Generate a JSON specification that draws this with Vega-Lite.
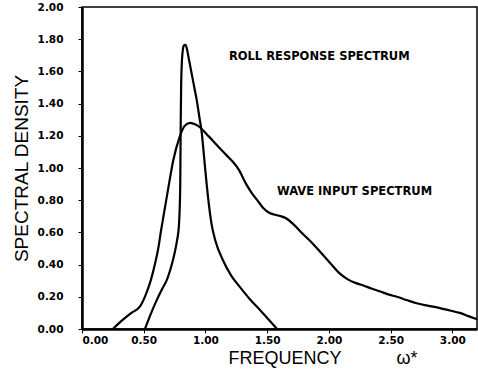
{
  "$schema": "https://vega.github.io/schema/vega-lite/v6.json",
  "width": 395,
  "height": 322,
  "autosize": {"type": "none"},
  "padding": {"left": 82, "top": 7, "right": 1, "bottom": 45},
  "background": "white",
  "config": {
    "view": {"stroke": "black", "strokeWidth": 1.5},
    "axis": {"grid": false, "domainColor": "black", "domainWidth": 2.5, "tickColor": "black", "labelColor": "black", "titleColor": "black", "labelFont": "DejaVu Sans", "titleFont": "Liberation Sans", "labelOverlap": false}
  },
  "datasets": {
    "curves": [
      {"series": "roll", "w": 0.51, "s": 0.0},
      {"series": "roll", "w": 0.55, "s": 0.08},
      {"series": "roll", "w": 0.6, "s": 0.17},
      {"series": "roll", "w": 0.65, "s": 0.25},
      {"series": "roll", "w": 0.69, "s": 0.31},
      {"series": "roll", "w": 0.72, "s": 0.38},
      {"series": "roll", "w": 0.75, "s": 0.47},
      {"series": "roll", "w": 0.77, "s": 0.55},
      {"series": "roll", "w": 0.785, "s": 0.64},
      {"series": "roll", "w": 0.792, "s": 0.76},
      {"series": "roll", "w": 0.796, "s": 0.9},
      {"series": "roll", "w": 0.798, "s": 1.1},
      {"series": "roll", "w": 0.8, "s": 1.3},
      {"series": "roll", "w": 0.803, "s": 1.5},
      {"series": "roll", "w": 0.808, "s": 1.64},
      {"series": "roll", "w": 0.815, "s": 1.72},
      {"series": "roll", "w": 0.825, "s": 1.76},
      {"series": "roll", "w": 0.838, "s": 1.765},
      {"series": "roll", "w": 0.85, "s": 1.74},
      {"series": "roll", "w": 0.865, "s": 1.68},
      {"series": "roll", "w": 0.88, "s": 1.62},
      {"series": "roll", "w": 0.91, "s": 1.5},
      {"series": "roll", "w": 0.93, "s": 1.42},
      {"series": "roll", "w": 0.95, "s": 1.32},
      {"series": "roll", "w": 0.97, "s": 1.22},
      {"series": "roll", "w": 0.99, "s": 1.06},
      {"series": "roll", "w": 1.01, "s": 0.9},
      {"series": "roll", "w": 1.03, "s": 0.76},
      {"series": "roll", "w": 1.05, "s": 0.65},
      {"series": "roll", "w": 1.08, "s": 0.55},
      {"series": "roll", "w": 1.14, "s": 0.43},
      {"series": "roll", "w": 1.21, "s": 0.33},
      {"series": "roll", "w": 1.28, "s": 0.26},
      {"series": "roll", "w": 1.36, "s": 0.185},
      {"series": "roll", "w": 1.44, "s": 0.12},
      {"series": "roll", "w": 1.51, "s": 0.06},
      {"series": "roll", "w": 1.58, "s": 0.0},
      {"series": "wave", "w": 0.25, "s": 0.0},
      {"series": "wave", "w": 0.32, "s": 0.05},
      {"series": "wave", "w": 0.4, "s": 0.1},
      {"series": "wave", "w": 0.47, "s": 0.14},
      {"series": "wave", "w": 0.52, "s": 0.22},
      {"series": "wave", "w": 0.56, "s": 0.31},
      {"series": "wave", "w": 0.59, "s": 0.4},
      {"series": "wave", "w": 0.62, "s": 0.51},
      {"series": "wave", "w": 0.64, "s": 0.61},
      {"series": "wave", "w": 0.66, "s": 0.7},
      {"series": "wave", "w": 0.7, "s": 0.88},
      {"series": "wave", "w": 0.74, "s": 1.05},
      {"series": "wave", "w": 0.79, "s": 1.19},
      {"series": "wave", "w": 0.83, "s": 1.26},
      {"series": "wave", "w": 0.875, "s": 1.28},
      {"series": "wave", "w": 0.92, "s": 1.27},
      {"series": "wave", "w": 0.96, "s": 1.25},
      {"series": "wave", "w": 1.01, "s": 1.21},
      {"series": "wave", "w": 1.06, "s": 1.17},
      {"series": "wave", "w": 1.12, "s": 1.12},
      {"series": "wave", "w": 1.17, "s": 1.08},
      {"series": "wave", "w": 1.22, "s": 1.04},
      {"series": "wave", "w": 1.27, "s": 0.99},
      {"series": "wave", "w": 1.33, "s": 0.9},
      {"series": "wave", "w": 1.38, "s": 0.84},
      {"series": "wave", "w": 1.42, "s": 0.8},
      {"series": "wave", "w": 1.47, "s": 0.75},
      {"series": "wave", "w": 1.52, "s": 0.72},
      {"series": "wave", "w": 1.59, "s": 0.705},
      {"series": "wave", "w": 1.66, "s": 0.685},
      {"series": "wave", "w": 1.72, "s": 0.645},
      {"series": "wave", "w": 1.79, "s": 0.59},
      {"series": "wave", "w": 1.87, "s": 0.53},
      {"series": "wave", "w": 1.94, "s": 0.47},
      {"series": "wave", "w": 2.01, "s": 0.41},
      {"series": "wave", "w": 2.08, "s": 0.35},
      {"series": "wave", "w": 2.15, "s": 0.31},
      {"series": "wave", "w": 2.22, "s": 0.285},
      {"series": "wave", "w": 2.28, "s": 0.27},
      {"series": "wave", "w": 2.35, "s": 0.25},
      {"series": "wave", "w": 2.41, "s": 0.235},
      {"series": "wave", "w": 2.48, "s": 0.215},
      {"series": "wave", "w": 2.55, "s": 0.2},
      {"series": "wave", "w": 2.63, "s": 0.18},
      {"series": "wave", "w": 2.71, "s": 0.16},
      {"series": "wave", "w": 2.8, "s": 0.145},
      {"series": "wave", "w": 2.9, "s": 0.13},
      {"series": "wave", "w": 2.98, "s": 0.115},
      {"series": "wave", "w": 3.06, "s": 0.1},
      {"series": "wave", "w": 3.13, "s": 0.08},
      {"series": "wave", "w": 3.2, "s": 0.06}
    ],
    "labels": [
      {"w": 1.19, "s": 1.69, "label": "ROLL RESPONSE SPECTRUM"},
      {"w": 1.58, "s": 0.85, "label": "WAVE INPUT SPECTRUM"}
    ]
  },
  "encoding": {
    "x": {
      "field": "w", "type": "quantitative",
      "scale": {"domain": [0, 3.2], "nice": false},
      "axis": {
        "values": [0, 0.5, 1, 1.5, 2, 2.5, 3], "format": ".2f", "labelOverlap": false,
        "labelFontWeight": "bold", "labelFontSize": 10.5, "labelPadding": 2, "tickSize": 4,
        "title": "FREQUENCY\u00a0\u00a0\u00a0\u00a0\u00a0\u00a0\u00a0\u00a0\u00a0\u00a0\u00a0ω*", "titleFontSize": 18, "titleFontWeight": "normal",
        "titleAnchor": "start", "titleAlign": "left", "titleX": 146, "titlePadding": 4
      }
    },
    "y": {
      "field": "s", "type": "quantitative",
      "scale": {"domain": [0, 2], "nice": false},
      "axis": {
        "values": [0, 0.2, 0.4, 0.6, 0.8, 1, 1.2, 1.4, 1.6, 1.8, 2], "format": ".2f",
        "labelOverlap": false, "labelFlush": false,
        "labelFontWeight": "bold", "labelFontSize": 10.5, "labelPadding": 15, "tickSize": 4,
        "title": "SPECTRAL DENSITY", "titleFontSize": 19, "titleFontWeight": "normal", "titlePadding": 6
      }
    }
  },
  "layer": [
    {
      "data": {"name": "curves"},
      "mark": {"type": "line", "interpolate": "monotone", "strokeWidth": 2.2, "color": "black"},
      "encoding": {
        "detail": {"field": "series", "type": "nominal"}
      }
    },
    {
      "data": {"name": "labels"},
      "mark": {"type": "text", "align": "left", "baseline": "middle", "font": "DejaVu Sans", "fontWeight": "bold", "fontSize": 11.5, "color": "black"},
      "encoding": {
        "text": {"field": "label", "type": "nominal"}
      }
    }
  ]
}
